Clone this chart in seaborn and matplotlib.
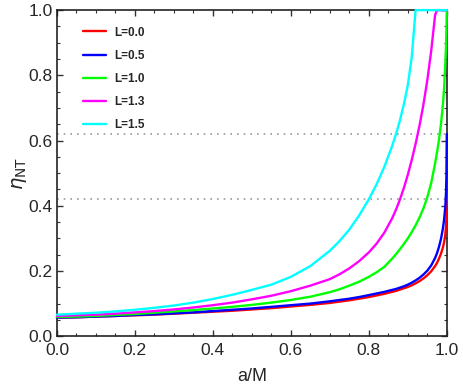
import pandas as pd
import matplotlib
matplotlib.use("Agg")
import matplotlib.pyplot as plt
import seaborn as sns
from matplotlib.ticker import MultipleLocator, FormatStrFormatter

sns.set_style("ticks")
plt.rcParams['font.family'] = ['Liberation Sans', 'DejaVu Sans']

# spin parameter grid (denser near a/M = 1)
a_grid = [0.0, 0.05, 0.1, 0.15, 0.2, 0.25, 0.3, 0.35, 0.4, 0.45, 0.5, 0.55, 0.6, 0.65, 0.7,
          0.725, 0.75, 0.775, 0.8, 0.82, 0.84, 0.86, 0.87, 0.88, 0.89, 0.9, 0.91, 0.92,
          0.93, 0.94, 0.95, 0.96, 0.97, 0.975, 0.98, 0.985, 0.99, 0.993, 0.996, 0.998,
          0.999, 1.0]

labels = ["L=0.0", "L=0.5", "L=1.0", "L=1.3", "L=1.5"]
colors = ["#ff0000", "#0000ff", "#00ff00", "#ff00ff", "#00ffff"]

eta_L00 = [0.057, 0.058, 0.060, 0.062, 0.064, 0.066, 0.069, 0.072, 0.075, 0.078, 0.082,
           0.086, 0.091, 0.096, 0.102, 0.106, 0.110, 0.115, 0.120, 0.125, 0.130, 0.136,
           0.139, 0.143, 0.147, 0.151, 0.156, 0.162, 0.169, 0.177, 0.187, 0.199, 0.215,
           0.225, 0.238, 0.253, 0.272, 0.288, 0.310, 0.335, 0.360, 0.420]
eta_L05 = [0.057, 0.058, 0.060, 0.062, 0.065, 0.067, 0.070, 0.073, 0.077, 0.081, 0.085,
           0.090, 0.095, 0.100, 0.107, 0.111, 0.115, 0.120, 0.126, 0.131, 0.136, 0.142,
           0.145, 0.149, 0.153, 0.158, 0.164, 0.171, 0.179, 0.189, 0.201, 0.217, 0.240,
           0.255, 0.274, 0.298, 0.330, 0.357, 0.395, 0.440, 0.490, 0.620]
eta_L10 = [0.059, 0.060, 0.062, 0.065, 0.068, 0.072, 0.076, 0.080, 0.085, 0.090, 0.096,
           0.103, 0.111, 0.121, 0.135, 0.144, 0.155, 0.167, 0.182, 0.196, 0.213, 0.238,
           0.252, 0.267, 0.283, 0.300, 0.319, 0.340, 0.364, 0.392, 0.426, 0.470, 0.530,
           0.565, 0.603, 0.650, 0.710, 0.760, 0.830, 0.890, 0.940, 1.000]
eta_L13 = [0.062, 0.064, 0.066, 0.069, 0.073, 0.077, 0.082, 0.088, 0.095, 0.103, 0.113,
           0.124, 0.138, 0.155, 0.175, 0.190, 0.208, 0.230, 0.257, 0.284, 0.318, 0.362,
           0.389, 0.420, 0.455, 0.495, 0.540, 0.590, 0.646, 0.710, 0.785, 0.875, 0.985,
           1.000, 1.000, 1.000, 1.000, 1.000, 1.000, 1.000, 1.000, 1.000]
eta_L15 = [0.066, 0.069, 0.072, 0.076, 0.081, 0.087, 0.094, 0.103, 0.114, 0.127, 0.142,
           0.158, 0.182, 0.215, 0.262, 0.292, 0.327, 0.370, 0.420, 0.466, 0.520, 0.584,
           0.621, 0.663, 0.712, 0.770, 0.855, 1.000, 1.000, 1.000, 1.000, 1.000, 1.000,
           1.000, 1.000, 1.000, 1.000, 1.000, 1.000, 1.000, 1.000, 1.000]

ref_lines = [0.42, 0.62]

series = [eta_L00, eta_L05, eta_L10, eta_L13, eta_L15]
df = pd.concat([pd.DataFrame({"a": a_grid, "eta": vals, "L": lab})
                for lab, vals in zip(labels, series)], ignore_index=True)

fig = plt.figure(figsize=(4.63, 3.90), dpi=100)
ax = fig.add_axes([0.123, 0.138, 0.842, 0.836])

# dotted reference levels
for y in ref_lines:
    ax.axhline(y, color="#999999", linestyle=(0, (1, 3)), linewidth=1.2, zorder=1)

sns.lineplot(data=df, x="a", y="eta", hue="L", palette=colors, hue_order=labels,
             estimator=None, sort=True, linewidth=1.7, ax=ax, zorder=3)
for ln in ax.get_lines():
    ln.set_clip_on(False)

ax.set_xlim(0, 1)
ax.set_ylim(0, 1)
ax.xaxis.set_major_locator(MultipleLocator(0.2))
ax.xaxis.set_minor_locator(MultipleLocator(0.05))
ax.yaxis.set_major_locator(MultipleLocator(0.2))
ax.yaxis.set_minor_locator(MultipleLocator(0.05))
ax.xaxis.set_major_formatter(FormatStrFormatter("%.1f"))
ax.yaxis.set_major_formatter(FormatStrFormatter("%.1f"))
ax.tick_params(which="both", direction="in", top=True, right=True, labelsize=12.5,
               color="#333333")
ax.tick_params(axis="x", pad=5)
ax.tick_params(axis="y", pad=3)
ax.tick_params(which="major", length=4, width=1)
ax.tick_params(which="minor", length=2, width=0.8)
for sp in ax.spines.values():
    sp.set_linewidth(1.2)
    sp.set_color("#222222")

ax.set_xlabel("a/M", fontsize=13, labelpad=7)
ax.set_ylabel(r"$\eta_{\mathrm{NT}}$", fontsize=14, labelpad=0)

ax.legend(loc="upper left", frameon=False, prop={"weight": "bold", "size": 8.5},
          handlelength=2.0, handletextpad=0.7, labelspacing=0.95, borderaxespad=0.3,
          bbox_to_anchor=(0.045, 0.975))

fig.savefig("out.png", dpi=100)
